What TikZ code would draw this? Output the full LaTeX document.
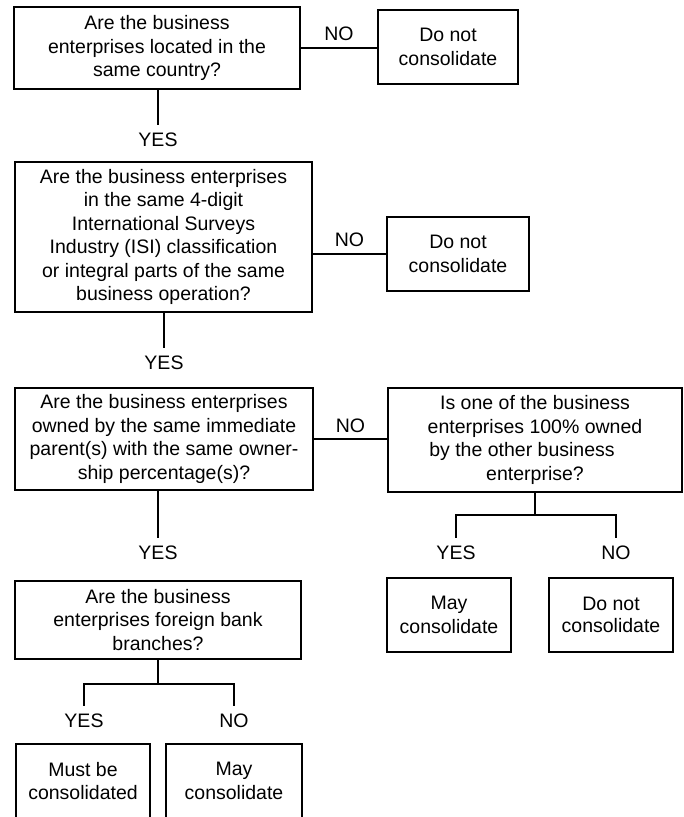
\documentclass[tikz,border=0pt]{standalone}
\usepackage{fontspec}
\setmainfont{Liberation Sans}
\usetikzlibrary{calc}
\begin{document}
\begin{tikzpicture}[x=1pt,y=-1pt,
  txt/.style={font=\fontsize{19.5}{23.5}\selectfont},
  box/.style={txt,draw=black,line width=2pt,align=center,inner sep=0pt},
  ylab/.style={txt,inner xsep=0pt,inner ysep=8pt},
  nlab/.style={txt,inner xsep=0pt,inner ysep=6.5pt},
  conn/.style={draw=black,line width=2pt}]
\useasboundingbox (0,0) rectangle (684,817);
\clip (0,0) rectangle (684,817);
% question 1
\node[box,minimum width=286,minimum height=82] (q1) at (157,48)
  {Are the business\\enterprises located in the\\same country?};
\node[box,minimum width=140,minimum height=74] (n1) at (448,47)
  {Do not\\consolidate};
\node[ylab] (y1) at (158,140) {YES};
% question 2
\node[box,minimum width=297,minimum height=150] (q2) at (163.5,237)
  {Are the business enterprises\\in the same 4-digit\\International Surveys\\Industry (ISI) classification\\or integral parts of the same\\business operation?};
\node[box,minimum width=142,minimum height=74] (n2) at (458,254)
  {Do not\\consolidate};
\node[ylab] (y2) at (164,363) {YES};
% question 3
\node[box,minimum width=298,minimum height=102] (q3) at (164,439)
  {Are the business enterprises\\owned by the same immediate\\parent(s) with the same owner-\\ship percentage(s)?};
\node[box,minimum width=294,minimum height=104] (q4) at (535,440)
  {Is one of the business\\enterprises 100\% owned\\by the other business\hspace{26pt}\null\\enterprise?};
\node[ylab] (y3) at (158,552.7) {YES};
\node[ylab] (y4) at (456,552.7) {YES};
\node[ylab] (no4) at (616,552.7) {NO};
\node[box,minimum width=124,minimum height=74] (r1) at (449,615)
  {May\\consolidate};
\node[box,minimum width=124,minimum height=74] (r2) at (611,615)
  {Do not\\[-2pt]consolidate};
% question 5
\node[box,minimum width=286,minimum height=78] (q5) at (158,620)
  {Are the business\\enterprises foreign bank\\branches?};
\node[ylab] (y5) at (84,720.7) {YES};
\node[ylab] (no5) at (234,720.7) {NO};
\node[box,minimum width=134,minimum height=74] (b1) at (83,781)
  {Must be\\consolidated};
\node[box,minimum width=136,minimum height=74] (b2) at (234,781)
  {May\\consolidate};
% connectors
\draw[conn] (q1.east) -- node[nlab,midway,above] {NO} (q1.east -| n1.west);
\draw[conn] (q1.south -| y1.north) -- (y1.north);
\draw[conn] (n2.west -| q2.east) -- node[nlab,midway,above] {NO} (n2.west);
\draw[conn] (q2.south -| y2.north) -- (y2.north);
\draw[conn] (q3.east) -- node[nlab,midway,above,inner ysep=5pt] {NO} (q3.east -| q4.west);
\draw[conn] (q3.south -| y3.north) -- (y3.north);
\draw[conn] (q4.south) -- ++(0,22) coordinate (j4) -| (y4.north);
\draw[conn] (j4) -| (no4.north);
\draw[conn] (q5.south) -- ++(0,24) coordinate (j5) -| (y5.north);
\draw[conn] (j5) -| (no5.north);
\end{tikzpicture}
\end{document}
